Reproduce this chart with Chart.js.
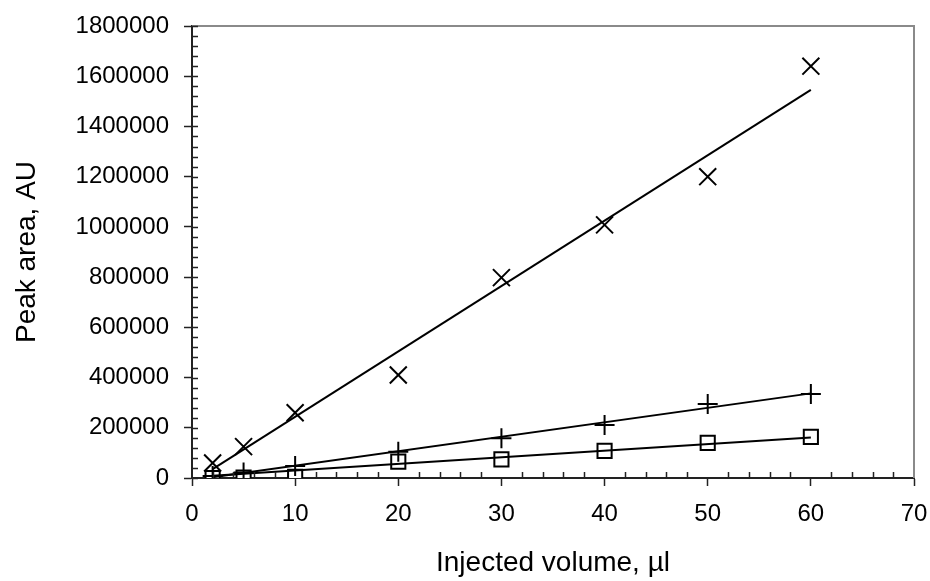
<!DOCTYPE html>
<html>
<head>
<meta charset="utf-8">
<script src="https://cdn.jsdelivr.net/npm/chart.js@4/dist/chart.umd.min.js"></script>
<style>
  html, body { margin: 0; padding: 0; background: #fff; }
  #wrap { width: 930px; height: 581px; }
</style>
</head>
<body>
<div id="wrap"><canvas id="peakChart" width="930" height="581"></canvas></div>
<script>
// injected volume (µl) and measured peak areas
const volumes = [2, 5, 10, 20, 30, 40, 50, 60];
const areaCross = [60000, 125000, 260000, 410000, 798000, 1008000, 1200000, 1640000];
const areaPlus = [8000, 22000, 48000, 105000, 158000, 211000, 295000, 335000];
const areaSquare = [0, 2000, 5000, 65000, 74000, 108000, 140000, 164000];

// trend lines, end points
const fitVolumes = [2, 60];
const fitCross = [35000, 1546000];
const fitPlus = [3000, 337000];
const fitSquare = [9000, 161000];

const xTicks = { min: 0, max: 70, step: 10, minor: 2 };
const yTicks = { min: 0, max: 1800000, step: 200000, minor: 40000 };

function pts(xs, ys) {
    return xs.map(function (x, i) { return { x: x, y: ys[i] }; });
}

function markerSet(ys, style, radius) {
    return {
        data: pts(volumes, ys),
        showLine: false,
        pointStyle: style,
        pointRadius: radius,
        pointHoverRadius: radius,
        pointBorderColor: '#000',
        pointBackgroundColor: '#fff',
        pointBorderWidth: 2
    };
}

function fitSet(ys) {
    return {
        data: pts(fitVolumes, ys),
        showLine: true,
        borderColor: '#000',
        borderWidth: 2,
        pointRadius: 0,
        fill: false
    };
}

// minor ticks inside the plot and grey frame on top / right
const frameAndMinor = {
    id: 'frameAndMinor',
    afterDraw(chart) {
        const ctx = chart.ctx;
        const a = chart.chartArea;
        const xs = chart.scales.x;
        const ys = chart.scales.y;
        ctx.save();
        ctx.strokeStyle = '#8a8a8a';
        ctx.lineWidth = 2;
        ctx.beginPath();
        ctx.moveTo(a.left, a.top);
        ctx.lineTo(a.right, a.top);
        ctx.lineTo(a.right, a.bottom);
        ctx.stroke();

        ctx.strokeStyle = '#222';
        ctx.lineWidth = 1.5;
        ctx.beginPath();
        for (let v = yTicks.min; v <= yTicks.max; v += yTicks.minor) {
            const py = Math.round(ys.getPixelForValue(v)) + 0.5;
            ctx.moveTo(a.left, py);
            ctx.lineTo(a.left + 6, py);
        }
        for (let v = xTicks.min; v <= xTicks.max; v += xTicks.minor) {
            if (v % xTicks.step === 0) continue;
            const px = Math.round(xs.getPixelForValue(v)) + 0.5;
            ctx.moveTo(px, a.bottom);
            ctx.lineTo(px, a.bottom - 6);
        }
        ctx.stroke();
        ctx.restore();
    }
};

function noOverhang(scale) {
    scale.paddingLeft = 0;
    scale.paddingRight = 0;
    scale.paddingTop = 0;
    scale.paddingBottom = 0;
}

Chart.defaults.font.family = '"Liberation Sans", Arial, sans-serif';
Chart.defaults.color = '#000';

const ctx = document.getElementById('peakChart');
new Chart(ctx, {
    type: 'scatter',
    data: {
        datasets: [
            fitSet(fitCross),
            fitSet(fitPlus),
            fitSet(fitSquare),
            markerSet(areaCross, 'crossRot', 12),
            markerSet(areaPlus, 'cross', 10),
            markerSet(areaSquare, 'rect', 10)
        ]
    },
    options: {
        responsive: false,
        animation: false,
        layout: { padding: { left: 0, top: 26, right: 16, bottom: 0 } },
        plugins: {
            legend: { display: false },
            tooltip: { enabled: false }
        },
        scales: {
            x: {
                type: 'linear',
                min: xTicks.min,
                max: xTicks.max,
                ticks: { stepSize: xTicks.step, padding: 14, font: { size: 24 } },
                grid: { drawOnChartArea: false, tickLength: 8, tickColor: '#222', tickWidth: 1.5 },
                border: { color: '#222', width: 2 },
                title: { display: true, text: 'Injected volume, µl', font: { size: 28 }, padding: { top: 0, bottom: 1 } },
                afterFit: function (scale) { scale.height = 103; noOverhang(scale); }
            },
            y: {
                type: 'linear',
                min: yTicks.min,
                max: yTicks.max,
                ticks: {
                    stepSize: yTicks.step,
                    padding: 15,
                    font: { size: 24 },
                    callback: function (v) { return String(v); }
                },
                grid: { drawOnChartArea: false, tickLength: 8, tickColor: '#222', tickWidth: 1.5 },
                border: { color: '#222', width: 2 },
                title: { display: true, text: 'Peak area, AU', font: { size: 28 }, padding: { top: 10, bottom: 0 } },
                afterFit: function (scale) { scale.width = 192; noOverhang(scale); }
            }
        }
    },
    plugins: [frameAndMinor]
});
</script>
</body>
</html>
